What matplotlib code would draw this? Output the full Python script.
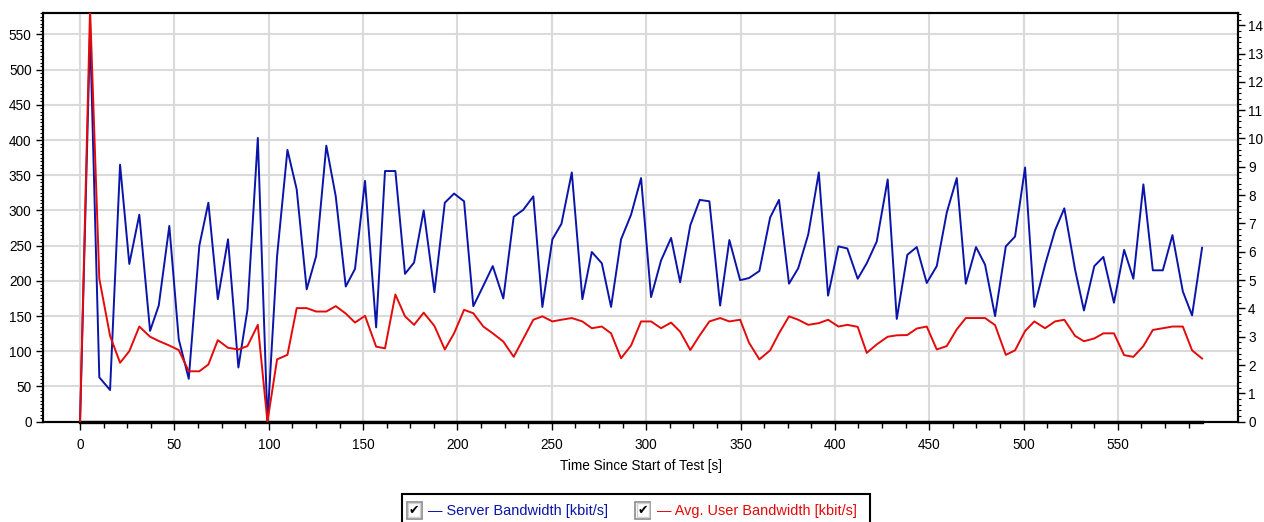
import matplotlib
matplotlib.use("Agg")
import matplotlib.pyplot as plt
from matplotlib import font_manager
from matplotlib.patches import Rectangle
from matplotlib.ticker import MultipleLocator, FixedLocator

# --- data -------------------------------------------------------------------
times = [0.0, 5.3, 10.2, 15.9, 21.2, 26.1, 31.4, 37.1, 41.7, 47.3,
         52.3, 57.6, 63.2, 68.0, 73.0, 78.4, 83.9, 88.7, 94.2, 99.3,
         104.4, 109.9, 114.8, 120.1, 125.1, 130.5, 135.5, 140.8, 145.7, 151.0,
         156.9, 161.6, 167.1, 172.2, 177.0, 182.1, 187.8, 193.3, 198.2, 203.5,
         208.4, 213.7, 218.7, 224.3, 229.8, 234.9, 240.2, 245.0, 250.3, 255.1,
         260.6, 266.2, 271.2, 276.5, 281.4, 286.7, 292.0, 297.3, 302.6, 307.9,
         313.2, 318.0, 323.4, 328.4, 333.5, 339.2, 344.1, 349.8, 354.5, 360.0,
         365.7, 370.4, 375.7, 380.6, 385.9, 391.5, 396.4, 401.9, 406.6, 412.1,
         416.9, 422.2, 428.0, 432.8, 438.4, 443.4, 448.7, 454.0, 459.3, 464.6,
         469.4, 474.8, 479.6, 484.9, 490.6, 495.5, 500.8, 505.7, 511.4, 516.7,
         521.6, 527.3, 532.0, 537.5, 542.3, 547.9, 553.3, 558.2, 563.5, 568.5,
         573.8, 578.9, 584.4, 589.3, 594.6]

server_bandwidth = [0, 555, 63, 45, 365, 224, 294, 129, 165, 278,
                    117, 61, 250, 311, 174, 259, 77, 159, 403, 0,
                    235, 386, 330, 188, 235, 392, 320, 192, 217, 342,
                    134, 356, 356, 210, 226, 300, 184, 311, 324, 313,
                    164, 193, 221, 175, 291, 301, 320, 163, 259, 281,
                    354, 174, 241, 225, 163, 259, 294, 346, 177, 229,
                    261, 198, 279, 315, 313, 165, 258, 201, 204, 214,
                    290, 315, 196, 218, 266, 354, 179, 249, 246, 203,
                    225, 256, 344, 146, 237, 248, 197, 221, 297, 346,
                    196, 248, 223, 150, 249, 263, 361, 163, 223, 272,
                    303, 216, 158, 221, 234, 169, 244, 203, 337, 215,
                    215, 265, 185, 151, 247]

avg_user_bandwidth = [0.0, 14.6, 5.05, 3.03, 2.08, 2.49, 3.36, 3.00, 2.85, 2.69,
                      2.53, 1.78, 1.78, 2.02, 2.88, 2.61, 2.55, 2.67, 3.42, 0.0,
                      2.20, 2.36, 4.01, 4.01, 3.89, 3.89, 4.08, 3.82, 3.50, 3.74,
                      2.65, 2.59, 4.49, 3.72, 3.42, 3.85, 3.38, 2.55, 3.12, 3.95,
                      3.83, 3.36, 3.12, 2.83, 2.29, 2.93, 3.60, 3.72, 3.54, 3.60,
                      3.66, 3.54, 3.30, 3.36, 3.12, 2.24, 2.69, 3.54, 3.54, 3.30,
                      3.50, 3.18, 2.53, 3.05, 3.54, 3.66, 3.54, 3.60, 2.79, 2.20,
                      2.52, 3.12, 3.72, 3.60, 3.42, 3.48, 3.60, 3.36, 3.42, 3.35,
                      2.43, 2.73, 3.00, 3.05, 3.06, 3.29, 3.36, 2.55, 2.67, 3.26,
                      3.66, 3.66, 3.66, 3.41, 2.36, 2.52, 3.20, 3.54, 3.30, 3.54,
                      3.60, 3.03, 2.84, 2.94, 3.12, 3.12, 2.35, 2.29, 2.67, 3.24,
                      3.30, 3.36, 3.36, 2.52, 2.23]

error_count = [0] * len(times)

x_major_ticks = list(range(0, 551, 50))
left_ticks = list(range(0, 551, 50))
right_ticks = list(range(0, 15))

server_label = "\u2014 Server Bandwidth [kbit/s]"
user_label = "\u2014 Avg. User Bandwidth [kbit/s]"
x_label = "Time Since Start of Test [s]"

# --- style ------------------------------------------------------------------
installed = {f.name for f in font_manager.fontManager.ttflist}
if "Liberation Sans Narrow" in installed:
    main_font, scale = "Liberation Sans Narrow", 1.0
else:
    main_font, scale = "Liberation Sans", 0.82
plt.rcParams["font.family"] = [main_font, "DejaVu Sans"]

BLUE = "#0a14a8"
RED = "#e50a0a"
GRID = "#dadada"
FS = 12.0 * scale
FS_LEG = 12.7 * scale

W, H = 1264, 522
fig = plt.figure(figsize=(W / 100, H / 100), dpi=100)
fig.patch.set_facecolor("white")


def px(x, y):
    return x / W, 1 - y / H


ax = fig.add_axes([42.7 / W, 1 - 421.7 / H, (1238.3 - 42.7) / W, (421.7 - 13.3) / H])
ax2 = ax.twinx()

ax.set_xlim(-19.8, 613.8)
ax.set_ylim(0, 580)
ax2.set_ylim(0, 14.42)

ax.grid(True, color=GRID, linewidth=1.5, zorder=0)
ax.set_axisbelow(True)

ax.plot(times, server_bandwidth, color=BLUE, linewidth=1.4, zorder=3)
ax.plot(times, error_count, color="black", linewidth=2.4, zorder=4, clip_on=False)
ax2.plot(times, avg_user_bandwidth, color=RED, linewidth=1.4, zorder=3)

# ticks
ax.xaxis.set_major_locator(FixedLocator(x_major_ticks))
ax.xaxis.set_minor_locator(FixedLocator([t * 12.5 for t in range(0, 48) if t % 4 != 0]))
ax.yaxis.set_major_locator(FixedLocator(left_ticks))
ax.yaxis.set_minor_locator(MultipleLocator(5))
ax2.yaxis.set_major_locator(FixedLocator(right_ticks))
ax2.yaxis.set_minor_locator(MultipleLocator(0.2))

ax.tick_params(axis="x", which="major", length=6, width=1, pad=6, labelsize=FS, colors="black")
ax.tick_params(axis="x", which="minor", length=4, width=1)
ax.tick_params(axis="y", which="major", length=5, width=1, pad=3, labelsize=FS)
ax.tick_params(axis="y", which="minor", length=2.5, width=0.8)
ax2.tick_params(axis="y", which="major", length=5, width=1, pad=2, labelsize=FS)
ax2.tick_params(axis="y", which="minor", length=2.5, width=0.8)

for a in (ax, ax2):
    for s in a.spines.values():
        s.set_color("black")
        s.set_linewidth(1.5)

ax.set_xlabel(x_label, fontsize=FS, labelpad=5)

# --- legend box with check boxes -------------------------------------------
fig.patches.append(Rectangle(px(401.7, 530), (870 - 401.7) / W, (530 - 494) / H,
                             transform=fig.transFigure, facecolor="white",
                             edgecolor="black", linewidth=1.5, clip_on=False))


def checkbox(x0, y0):
    fig.patches.append(Rectangle(px(x0, y0 + 17), 15 / W, 17 / H, transform=fig.transFigure,
                                 facecolor="white", edgecolor="#8a8a8a", linewidth=1.2))
    fig.patches.append(Rectangle(px(x0 + 1.5, y0 + 15.5), 12 / W, 14 / H, transform=fig.transFigure,
                                 facecolor="none", edgecolor="#d0d0d0", linewidth=1.0))
    cx, cy = px(x0 + 7.5, y0 + 9)
    fig.text(cx, cy, "\u2714", family="DejaVu Sans", fontsize=9, color="black",
             ha="center", va="center")


checkbox(406.7, 501.5)
checkbox(635, 501.5)
lx, ly = px(428, 511)
fig.text(lx, ly, server_label, color=BLUE, fontsize=FS_LEG, ha="left", va="center")
lx, ly = px(656.5, 511)
fig.text(lx, ly, user_label, color=RED, fontsize=FS_LEG, ha="left", va="center")

fig.savefig("out.png", dpi=100, facecolor="white")
